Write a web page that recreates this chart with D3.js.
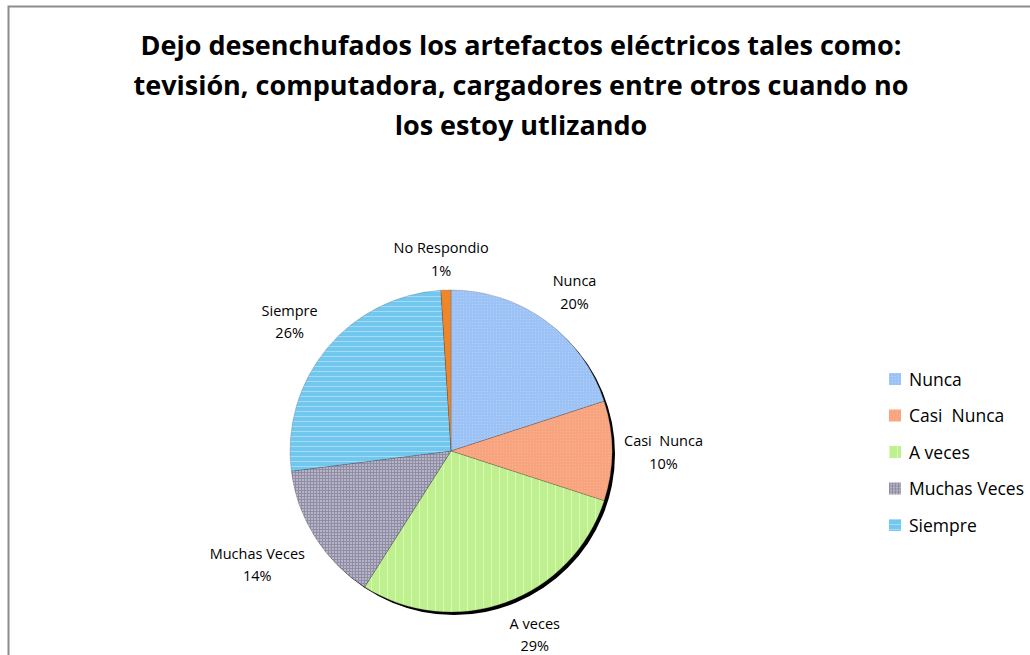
<!DOCTYPE html>
<html><head><meta charset="utf-8">
<script src="https://cdn.jsdelivr.net/npm/d3@7/dist/d3.min.js"></script>
<style>body{margin:0;background:#fff}svg{display:block}text{font-family:"Open Sans","Noto Sans",sans-serif}</style>
</head><body>
<svg id="c" width="1030" height="655"></svg>
<script>
const titleLines = ["Dejo desenchufados los artefactos eléctricos tales como:",
  "tevisión, computadora, cargadores entre otros cuando no",
  "los estoy utlizando"];
const categories = ["Nunca", "Casi  Nunca", "A veces", "Muchas Veces", "Siempre", "No Respondio"];
const labelNames = ["Nunca", "Casi  Nunca", "A veces", "Muchas Veces", "Siempre", "No Respondio"];
const values = [20, 10, 29, 14, 26, 1];
const legendCategories = ["Nunca", "Casi  Nunca", "A veces", "Muchas Veces", "Siempre"];
const baseColors = ["#9cc2f6", "#f7a47f", "#bff08e", "#a6a3b9", "#70c8ef", "#f0862a"];

const svg = d3.select("#c");
const W = 1030, H = 655;
svg.append("rect").attr("x", 8.5).attr("y", 6.5).attr("width", W + 20).attr("height", H + 20)
  .attr("fill", "#fff").attr("stroke", "#8c8c8c").attr("stroke-width", 2);

// patterns
const defs = svg.append("defs");
function pat(id, w, h, bg, draw) {
  const p = defs.append("pattern").attr("id", id).attr("patternUnits", "userSpaceOnUse").attr("width", w).attr("height", h);
  p.append("rect").attr("width", w).attr("height", h).attr("fill", bg);
  draw(p);
}
pat("p0", 3, 3, baseColors[0], p => { p.append("rect").attr("x", 0).attr("y", 0).attr("width", 1).attr("height", 1).attr("fill", "#b3d2fa"); });
pat("p1", 3, 3, baseColors[1], p => { p.append("rect").attr("x", 1).attr("y", 1).attr("width", 1).attr("height", 1).attr("fill", "#f9b495"); });
pat("p2", 8, 8, baseColors[2], p => { p.append("rect").attr("x", 0).attr("y", 0).attr("width", 1).attr("height", 8).attr("fill", "#dcf8c0"); });
pat("p3", 3, 3, "#b7b4c6", p => { p.append("rect").attr("x", 0).attr("y", 0).attr("width", 3).attr("height", 1).attr("fill", "#8f8ca6"); p.append("rect").attr("x", 0).attr("y", 0).attr("width", 1).attr("height", 3).attr("fill", "#8f8ca6"); });
pat("p4", 5, 5, baseColors[4], p => { p.append("rect").attr("x", 0).attr("y", 0).attr("width", 5).attr("height", 1).attr("fill", "#aad9f7"); });
pat("p5", 4, 4, baseColors[5], p => {});

// title
const title = svg.append("g");
titleLines.forEach((t, i) => {
  title.append("text").attr("x", 521).attr("y", 55 + i * 40).attr("text-anchor", "middle")
    .attr("font-size", 27).attr("font-weight", "bold").attr("fill", "#000").text(t);
});

// pie
const cx = 451, cy = 451, R = 161;
const data = categories.map((c, i) => ({ cat: c, label: labelNames[i], value: values[i], i }));
const pie = d3.pie().value(d => d.value).sort(null);
const arcs = pie(data);
const arc = d3.arc().innerRadius(0).outerRadius(R);
const g = svg.append("g").attr("transform", `translate(${cx},${cy})`);
g.append("circle").attr("cx", 3).attr("cy", 3).attr("r", R).attr("fill", "#000");
g.selectAll("path.s").data(arcs).join("path").attr("class", "s")
  .attr("d", arc).attr("fill", d => `url(#p${d.data.i})`)
  .attr("stroke", "rgba(80,80,80,0.45)").attr("stroke-width", 0.6);

// labels
const fs = 14.5;
const lab = svg.append("g");
arcs.forEach(a => {
  const m = (a.startAngle + a.endAngle) / 2;
  const s = Math.sin(m), c = Math.cos(m);
  const rr = R + 12;
  const px = cx + rr * s, py = cy - rr * c;
  const t = lab.append("g");
  const t1 = t.append("text").attr("text-anchor", "middle").attr("font-size", fs).attr("xml:space", "preserve").style("white-space", "pre").text(a.data.label);
  const t2 = t.append("text").attr("text-anchor", "middle").attr("font-size", fs).attr("y", 22.5).text(Math.round(a.data.value) + "%");
  const w = Math.max(t1.node().getComputedTextLength(), t2.node().getComputedTextLength());
  const h = 40;
  const sx = Math.max(-1, Math.min(1, s * 3));
  const sy = Math.max(-1, Math.min(1, -c * 2));
  const bx = px + sx * w / 2, by = py + sy * h / 2;
  t.attr("transform", `translate(${bx},${by - 5})`);
});

// legend
const leg = svg.append("g").attr("transform", "translate(889,373)");
legendCategories.forEach((c, i) => {
  const gi = leg.append("g").attr("transform", `translate(0,${i * 36.5})`);
  gi.append("rect").attr("width", 12).attr("height", 12).attr("fill", `url(#p${i})`);
  gi.append("text").attr("x", 20).attr("y", 12.5).attr("font-size", 17.5).attr("xml:space", "preserve").style("white-space", "pre").text(c);
});
</script>
</body></html>
